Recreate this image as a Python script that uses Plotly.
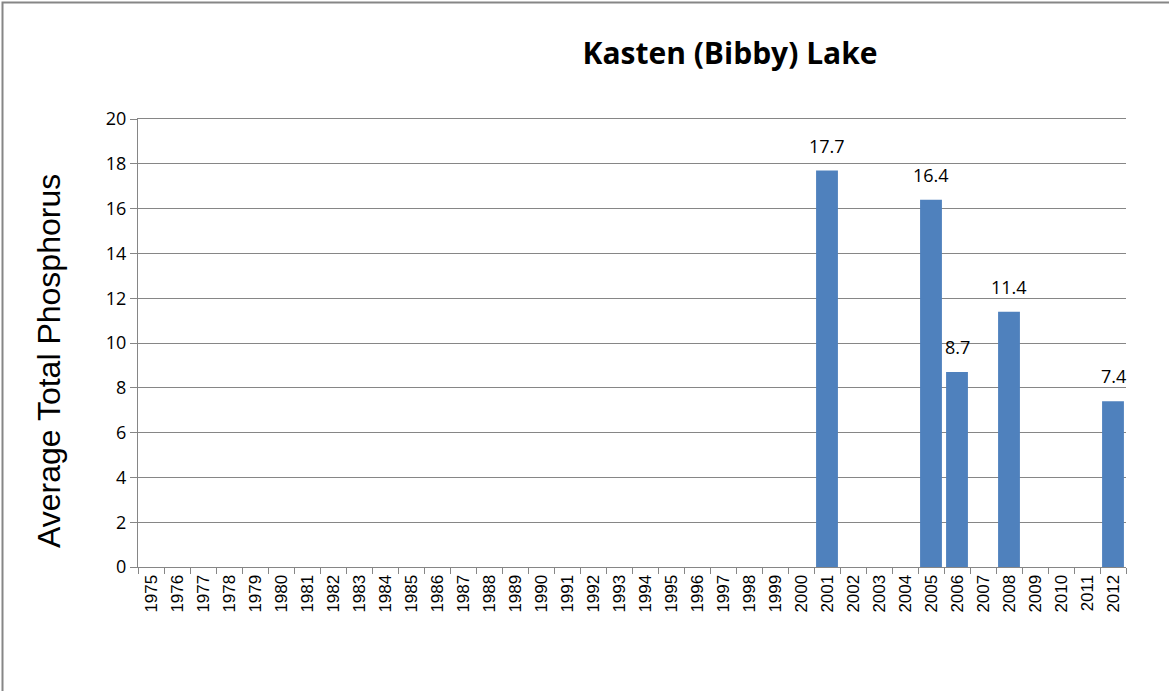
import plotly.graph_objects as go

years = [str(y) for y in range(1975, 2013)]
values = {"2001": 17.7, "2005": 16.4, "2006": 8.7, "2008": 11.4, "2012": 7.4}
y_vals = [values.get(y) for y in years]
labels = [f"{v:.1f}" if v is not None else "" for v in y_vals]
y_title = "Average Total Phosphorus"
chart_title = "Kasten (Bibby) Lake"

W, H = 1169, 691
L, R, T, B = 138, 43, 119, 124
pw, ph = W - L - R, H - T - B

fig = go.Figure()
fig.add_trace(go.Bar(
    x=years, y=y_vals,
    marker=dict(color="#4F81BD", line=dict(width=0)),
    hovertemplate="%{x}: %{y}<extra></extra>",
))

for i, (v, lab) in enumerate(zip(y_vals, labels)):
    if v is None:
        continue
    fig.add_annotation(x=i, y=v, text=lab, showarrow=False, yanchor="bottom", yshift=11,
                       font=dict(family="Open Sans, Liberation Sans", size=18, color="#000000"))

fig.add_annotation(xref="paper", yref="paper", x=(49 - L) / pw, y=(H - B - 361) / ph,
                   xanchor="center", yanchor="middle", textangle=-90, showarrow=False,
                   text=y_title, font=dict(family="Liberation Sans, Arial", size=32, color="#000000"))

fig.update_layout(
    width=W, height=H,
    paper_bgcolor="white", plot_bgcolor="white",
    margin=dict(l=L, r=R, t=T, b=B),
    bargap=0.16,
    showlegend=False,
    title=dict(text=f"<b>{chart_title}</b>", x=730 / W, xanchor="center", y=1 - 53 / H, yanchor="middle",
               font=dict(family="Open Sans, Liberation Sans", size=30, color="#000000")),
    xaxis=dict(type="category", categoryorder="array", categoryarray=years,
               range=[-0.5, len(years) - 0.5], autorange=False,
               tickangle=-90, showline=True, mirror=True, linecolor="#868686", linewidth=1,
               ticks="outside", ticklen=6, tickcolor="#868686", showgrid=False,
               tickfont=dict(family="Liberation Sans, Arial", size=17, color="#000000"),
               tickson="boundaries"),
    yaxis=dict(range=[0, 20], tickvals=list(range(0, 21, 2)), showline=True, linecolor="#868686", linewidth=1,
               ticks="outside", ticklen=7, tickcolor="#868686", gridcolor="#868686", gridwidth=1,
               zeroline=False,
               tickfont=dict(family="Open Sans, Liberation Sans", size=18, color="#000000")),
)
fig.add_shape(type="rect", xref="paper", yref="paper",
              x0=(2.5 - L) / pw, x1=(W + 10 - L) / pw,
              y0=(H - B - (H + 10)) / ph, y1=(H - B - 2.5) / ph,
              line=dict(color="#868686", width=2))
fig.write_html("out.html", config={"displayModeBar": False},
               post_script="document.body.style.margin='0';document.body.style.overflow='hidden';")
